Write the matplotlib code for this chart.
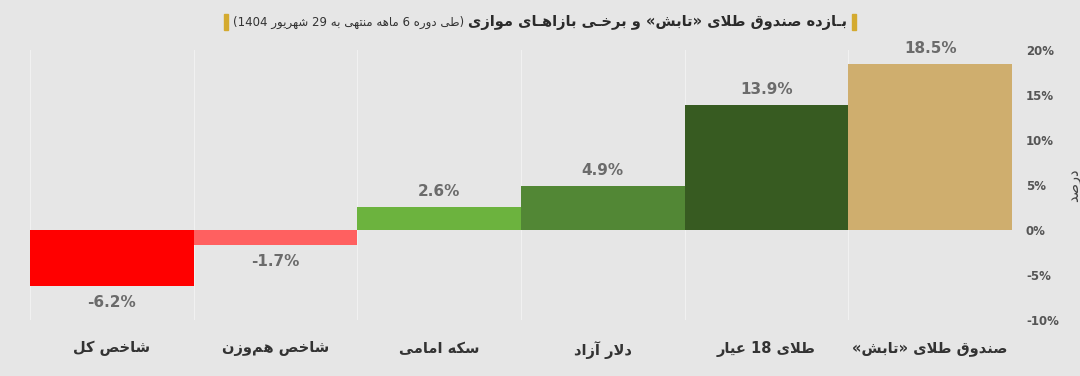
import re

import matplotlib
matplotlib.use("Agg")
import matplotlib.pyplot as plt
from matplotlib.patches import Rectangle

categories = ["شاخص کل", "شاخص هم‌وزن", "سکه امامی", "دلار آزاد", "طلای 18 عیار", "صندوق طلای «تابش»"]
returns = [-6.2, -1.7, 2.6, 4.9, 13.9, 18.5]
bar_colors = ["#ff0000", "#ff6060", "#6cb33e", "#528735", "#375b21", "#cfae6e"]
yticks = [-10, -5, 0, 5, 10, 15, 20]
title_main = "بـازده صندوق طلای «تابش» و برخـی بازاهـای موازی"
title_note = "(طی دوره 6 ماهه منتهی به 29 شهریور 1404)"
ylabel = "درصد"

# --- minimal persian shaping + bidi (matplotlib does neither) ---
RIGHT_JOIN = {"\u0627": 0xFE8D, "\u0622": 0xFE81, "\u062F": 0xFEA9, "\u0630": 0xFEAB,
              "\u0631": 0xFEAD, "\u0632": 0xFEAF, "\u0698": 0xFB8A, "\u0648": 0xFEED}
DUAL_JOIN = {"\u0628": 0xFE8F, "\u067E": 0xFB56, "\u062A": 0xFE95, "\u062B": 0xFE99,
             "\u062C": 0xFE9D, "\u0686": 0xFB7A, "\u062D": 0xFEA1, "\u062E": 0xFEA5,
             "\u0633": 0xFEB1, "\u0634": 0xFEB5, "\u0635": 0xFEB9, "\u0636": 0xFEBD,
             "\u0637": 0xFEC1, "\u0638": 0xFEC5, "\u0639": 0xFEC9, "\u063A": 0xFECD,
             "\u0641": 0xFED1, "\u0642": 0xFED5, "\u06A9": 0xFB8E, "\u06AF": 0xFB92,
             "\u0644": 0xFEDD, "\u0645": 0xFEE1, "\u0646": 0xFEE5, "\u0647": 0xFEE9,
             "\u06CC": 0xFBFC}
KASHIDA = "\u0640"
MIRROR = {"(": ")", ")": "(", "«": "»", "»": "«"}


def joins_next(c):
    return c in DUAL_JOIN or c == KASHIDA


def joining(c):
    return c in DUAL_JOIN or c in RIGHT_JOIN or c == KASHIDA


def shape(s):
    out = []
    i, n = 0, len(s)
    while i < n:
        c = s[i]
        prev = s[i - 1] if i > 0 else ""
        link_prev = joining(c) and joins_next(prev)
        if c == "\u0644" and i + 1 < n and s[i + 1] in ("\u0627", "\u0622"):
            base = 0xFEFB if s[i + 1] == "\u0627" else 0xFEF5
            out.append(chr(base + int(link_prev)))
            i += 2
            continue
        nxt = s[i + 1] if i + 1 < n else ""
        link_next = joins_next(c) and joining(nxt)
        if c in DUAL_JOIN:
            idx = {(False, False): 0, (True, False): 1,
                   (False, True): 2, (True, True): 3}[(link_prev, link_next)]
            out.append(chr(DUAL_JOIN[c] + idx))
        elif c in RIGHT_JOIN:
            out.append(chr(RIGHT_JOIN[c] + int(link_prev)))
        elif c != "\u200c":
            out.append(c)
        i += 1
    return "".join(out)


def fa(s):
    runs = re.findall(r"[0-9A-Za-z.%]+|[^0-9A-Za-z.%]+", shape(s))
    vis = []
    for run in reversed(runs):
        if re.match(r"[0-9A-Za-z.%]", run):
            vis.append(run)
        else:
            vis.append("".join(MIRROR.get(ch, ch) for ch in reversed(run)))
    return "".join(vis)


plt.rcParams["font.family"] = ["DejaVu Sans"]
bg = "#e6e6e6"

fig = plt.figure(figsize=(10.8, 3.76), dpi=100, facecolor=bg)
ax = fig.add_axes([30 / 1080, 56 / 376, 982 / 1080, 270 / 376], facecolor=bg)

x = list(range(len(categories)))
ax.bar(x, returns, width=1.0, color=bar_colors, zorder=2)

for xi, v in zip(x, returns):
    off = 11 if v >= 0 else -12
    ax.annotate(f"{v:.1f}%", (xi, v), xytext=(0, off), textcoords="offset points",
                ha="center", va="center", fontsize=11, fontweight="bold", color="#6b6b6b")

ax.set_xlim(-0.5, len(categories) - 0.5)
ax.set_ylim(-10, 20)
ax.set_xticks(x)
ax.set_xticklabels([fa(c) for c in categories], fontsize=10.5, fontweight="bold", color="#333333")
ax.set_xticks([i - 0.5 for i in range(len(categories) + 1)], minor=True)
ax.tick_params(axis="x", which="both", length=0, pad=15)
ax.grid(axis="x", which="minor", color="#f1f1f1", linewidth=0.8, zorder=0)

ax.yaxis.tick_right()
ax.set_yticks(yticks)
ax.set_yticklabels([f"{t}%" for t in yticks], fontsize=8.5, fontweight="bold", color="#555555")
ax.tick_params(axis="y", length=0, pad=10)
ax.yaxis.set_label_position("right")
ax.set_ylabel(fa(ylabel), rotation=90, fontsize=10.5, color="#444444")
ax.yaxis.set_label_coords(1.055, 0.5)

for sp in ax.spines.values():
    sp.set_visible(False)

# title: bold part on the right, note on the left, gold bars on both ends
ty = 1 - 22 / 376
t_main = fig.text(0, ty, fa(title_main), fontsize=10.5, fontweight="bold",
                  color="#2b2b2b", ha="right", va="center")
t_note = fig.text(0, ty, fa(title_note), fontsize=8.5, color="#333333",
                  ha="right", va="center")
fig.canvas.draw()
r = fig.canvas.get_renderer()
w_main = t_main.get_window_extent(r).width
w_note = t_note.get_window_extent(r).width
gap = 4
total = w_main + gap + w_note
right_px = 540 + total / 2
t_main.set_x(right_px / 1080)
t_note.set_x((right_px - w_main - gap) / 1080)
gold = "#d4aa2f"
for bx in (right_px + 5, right_px - total - 9):
    fig.add_artist(Rectangle((bx / 1080, 1 - 30 / 376), 4 / 1080, 16 / 376,
                             transform=fig.transFigure, color=gold))

fig.savefig("out.png", dpi=100, facecolor=bg)
